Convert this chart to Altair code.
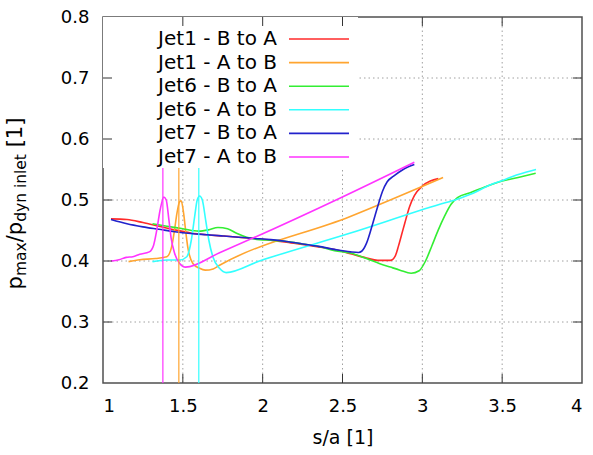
import altair as alt
import pandas as pd

FONT = "DejaVu Sans"
W, H = 479, 366

series_names = ["Jet1 - B to A", "Jet1 - A to B", "Jet6 - B to A",
                "Jet6 - A to B", "Jet7 - B to A", "Jet7 - A to B"]
series_colors = ["#ff2a2a", "#ffa530", "#33ee33", "#33ffff", "#2222cc", "#ff33ff"]

jet1_ba_x = [1.05, 1.15, 1.25, 1.35, 1.45, 1.55, 1.65, 1.75, 1.85, 1.95, 2.05, 2.15, 2.25, 2.35,
             2.45, 2.55, 2.65, 2.72, 2.80, 2.83, 2.85, 2.87, 2.89, 2.92, 2.95, 3.00, 3.05, 3.10]
jet1_ba_y = [0.469, 0.468, 0.463, 0.457, 0.451, 0.446, 0.443, 0.441, 0.439, 0.437, 0.434, 0.431, 0.427, 0.423,
             0.419, 0.412, 0.405, 0.401, 0.401, 0.408, 0.424, 0.443, 0.462, 0.489, 0.507, 0.523, 0.531, 0.535]

jet1_ab_x = [1.16, 1.23, 1.33, 1.40, 1.43, 1.448, 1.463, 1.48, 1.49, 1.505, 1.517, 1.532, 1.563,
             1.605, 1.64, 1.69, 1.73, 2.545, 3.13]
jet1_ab_y = [0.399, 0.402, 0.404, 0.407, 0.4235, 0.451, 0.478, 0.497, 0.4985, 0.478, 0.451, 0.421, 0.396,
             0.388, 0.385, 0.387, 0.393, 0.4727, 0.537]

jet6_ba_x = [1.31, 1.40, 1.50, 1.60, 1.66, 1.72, 1.78, 1.84, 1.90, 1.98, 2.05, 2.15, 2.25, 2.36, 2.45,
             2.55, 2.65, 2.73, 2.80, 2.86, 2.93, 2.98, 3.02, 3.06, 3.10, 3.14, 3.18, 3.22, 3.30, 3.40,
             3.50, 3.60, 3.71]
jet6_ba_y = [0.461, 0.457, 0.453, 0.449, 0.451, 0.455, 0.453, 0.445, 0.439, 0.435, 0.434, 0.432, 0.428,
             0.4235, 0.417, 0.413, 0.404, 0.396, 0.390, 0.385, 0.380, 0.384, 0.400, 0.425, 0.451, 0.474,
             0.493, 0.504, 0.512, 0.522, 0.531, 0.537, 0.544]

jet6_ab_x = [1.31, 1.40, 1.48, 1.525, 1.553, 1.574, 1.59, 1.605, 1.622, 1.643, 1.663, 1.688, 1.73,
             1.772, 1.98, 2.545, 3.11, 3.214, 3.318, 3.423, 3.503, 3.59, 3.653, 3.712]
jet6_ab_y = [0.399, 0.4016, 0.4016, 0.407, 0.434, 0.4727, 0.500, 0.5066, 0.500, 0.467, 0.434, 0.407,
             0.388, 0.381, 0.400, 0.4454, 0.493, 0.501, 0.511, 0.5246, 0.532, 0.541, 0.546, 0.550]

jet7_ba_x = [1.05, 1.15, 1.25, 1.35, 1.45, 1.55, 1.65, 1.75, 1.85, 1.95, 2.05, 2.15, 2.25, 2.35, 2.45,
             2.55, 2.60, 2.62, 2.65, 2.69, 2.72, 2.75, 2.78, 2.82, 2.88, 2.95]
jet7_ba_y = [0.468, 0.461, 0.456, 0.452, 0.448, 0.445, 0.443, 0.441, 0.439, 0.437, 0.435, 0.432, 0.428,
             0.424, 0.419, 0.415, 0.414, 0.416, 0.429, 0.462, 0.489, 0.514, 0.530, 0.539, 0.550, 0.558]

jet7_ab_x = [1.05, 1.10, 1.145, 1.187, 1.23, 1.29, 1.317, 1.337, 1.358, 1.381, 1.396, 1.413, 1.427,
             1.448, 1.48, 1.517, 1.73, 2.483, 2.95]
jet7_ab_y = [0.400, 0.402, 0.406, 0.407, 0.411, 0.415, 0.426, 0.451, 0.484, 0.505, 0.500, 0.467, 0.437,
             0.413, 0.396, 0.390, 0.4136, 0.503, 0.562]

# vertical marker lines (peak positions of the A-to-B runs)
marker_names = ["Jet7 - A to B", "Jet1 - A to B", "Jet6 - A to B"]
marker_x = [1.375, 1.475, 1.60]
marker_y0 = [0.2, 0.2, 0.2]
marker_y1 = [0.8, 0.8, 0.8]

x_ticks = [1, 1.5, 2, 2.5, 3, 3.5, 4]
y_ticks = [0.2, 0.3, 0.4, 0.5, 0.6, 0.7, 0.8]
x_grid = [1.5, 2, 2.5, 3, 3.5]
y_grid = [0.3, 0.4, 0.5, 0.6, 0.7]

all_x = [jet1_ba_x, jet1_ab_x, jet6_ba_x, jet6_ab_x, jet7_ba_x, jet7_ab_x]
all_y = [jet1_ba_y, jet1_ab_y, jet6_ba_y, jet6_ab_y, jet7_ba_y, jet7_ab_y]
rows = []
for name, xs, ys in zip(series_names, all_x, all_y):
    for xv, yv in zip(xs, ys):
        rows.append({"s": xv, "p": yv, "series": name})
df = pd.DataFrame(rows)

xscale = alt.Scale(domain=[1, 4], nice=False, zero=False)
yscale = alt.Scale(domain=[0.2, 0.8], nice=False, zero=False)
cscale = alt.Scale(domain=series_names, range=series_colors)

xaxis = alt.Axis(values=x_ticks, format="~g", title="s/a [1]", grid=False,
                 domain=False, ticks=False, labelPadding=14, titlePadding=13)
yaxis = alt.Axis(values=y_ticks, format=".1f", title=None, grid=False,
                 domain=False, ticks=False, labelPadding=14)


def X(f):
    return alt.X(f, scale=xscale, axis=xaxis)


def Y(f):
    return alt.Y(f, scale=yscale, axis=yaxis)


grid_x = alt.Chart(pd.DataFrame({"g": x_grid})).mark_rule(
    color="#a0a0a0", strokeDash=[1.5, 3], strokeWidth=1
).encode(x=X("g:Q"), y=alt.value(0), y2=alt.value(H))

grid_y = alt.Chart(pd.DataFrame({"g": y_grid})).mark_rule(
    color="#a0a0a0", strokeDash=[1.5, 3], strokeWidth=1
).encode(y=Y("g:Q"), x=alt.value(0), x2=alt.value(W))

lines = alt.Chart(df).mark_line(strokeWidth=1.6, interpolate="monotone").encode(
    x=X("s:Q"),
    y=Y("p:Q"),
    color=alt.Color("series:N", scale=cscale, legend=None),
)

markers = alt.Chart(pd.DataFrame({"x": marker_x, "y0": marker_y0, "y1": marker_y1,
                                  "series": marker_names})).mark_rule(strokeWidth=1.2).encode(
    x=X("x:Q"),
    y=Y("y0:Q"),
    y2="y1:Q",
    color=alt.Color("series:N", scale=cscale, legend=None),
)

key_box = alt.Chart(pd.DataFrame({"a": [0]})).mark_rect(fill="white").encode(
    x=alt.value(0), x2=alt.value(255), y=alt.value(0), y2=alt.value(151)
)

key_layers = []
for i, (name, col) in enumerate(zip(series_names, series_colors)):
    yy = 22 + i * 23.6
    key_layers.append(
        alt.Chart(pd.DataFrame({"a": [0]})).mark_text(
            align="right", baseline="middle", font=FONT, fontSize=20, color="black"
        ).encode(x=alt.value(174), y=alt.value(yy), text=alt.value(name))
    )
    key_layers.append(
        alt.Chart(pd.DataFrame({"a": [0]})).mark_rule(color=col, strokeWidth=1.6).encode(
            x=alt.value(186), x2=alt.value(246), y=alt.value(yy)
        )
    )

TL = 9
tick_col = "#333333"
ticks_bottom = alt.Chart(pd.DataFrame({"v": x_grid})).mark_rule(color=tick_col).encode(
    x=X("v:Q"), y=alt.value(H), y2=alt.value(H - TL))
ticks_top = alt.Chart(pd.DataFrame({"v": x_grid})).mark_rule(color=tick_col).encode(
    x=X("v:Q"), y=alt.value(0), y2=alt.value(TL))
ticks_left = alt.Chart(pd.DataFrame({"v": y_grid})).mark_rule(color=tick_col).encode(
    y=Y("v:Q"), x=alt.value(0), x2=alt.value(TL))
ticks_right = alt.Chart(pd.DataFrame({"v": y_grid})).mark_rule(color=tick_col).encode(
    y=Y("v:Q"), x=alt.value(W), x2=alt.value(W - TL))

# y-axis title with subscripts: p_max / p_dyn inlet [1]
BIG, SMALL = 21, 15.5
cw = {"p": .635, "m": .974, "a": .613, "x": .592, "/": .337, "d": .635, "y": .592, "n": .634,
      " ": .318, "i": .278, "l": .278, "e": .615, "t": .392, "[": .390, "1": .636, "]": .390}
# (text, font size, subscript shift, leading gap in em)
pieces = [("p", BIG, 0, 0), ("max", SMALL, 4, 0), ("/p", BIG, 0, 0),
          ("dyn inlet", SMALL, 4, 0), ("[1]", BIG, 0, 0.318)]
widths = [(g + sum(cw[c] for c in t)) * fs for t, fs, _, g in pieces]
total = sum(widths)
ystart = 186.5 + total / 2
base_x = -81
title_layers = []
pos = ystart
for (t, fs, dx, g), w in zip(pieces, widths):
    title_layers.append(
        alt.Chart(pd.DataFrame({"a": [0]})).mark_text(
            angle=270, align="left", baseline="alphabetic", font=FONT, fontSize=fs, color="black"
        ).encode(x=alt.value(base_x + dx), y=alt.value(pos - g * fs), text=alt.value(t))
    )
    pos -= w

chart = alt.layer(
    grid_x, grid_y, lines, markers, key_box, *key_layers,
    ticks_bottom, ticks_top, ticks_left, ticks_right, *title_layers
).properties(
    width=W, height=H,
    padding={"left": 103, "top": 17, "right": 11, "bottom": 72},
    autosize=alt.AutoSizeParams(type="none"),
).configure_view(
    stroke="#505050", strokeWidth=1.5
).configure_axis(
    labelFont=FONT, labelFontSize=18, labelColor="black",
    titleFont=FONT, titleFontSize=19, titleFontWeight="normal", titleColor="black",
)

chart.save("out.html", embed_options={"renderer": "svg", "actions": False})
